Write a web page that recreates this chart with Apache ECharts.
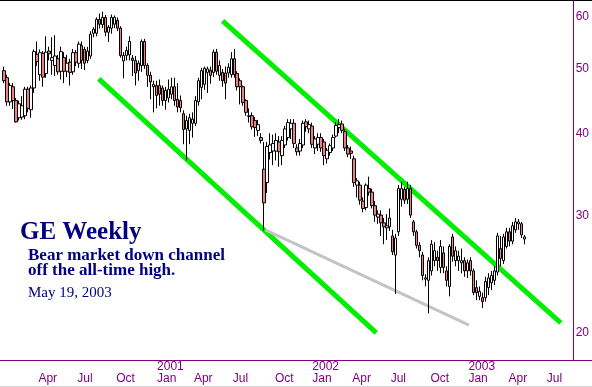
<!DOCTYPE html>
<html>
<head>
<meta charset="utf-8">
<script src="https://cdn.jsdelivr.net/npm/echarts@6/dist/echarts.min.js"></script>
<style>
html, body { margin: 0; padding: 0; background: #fff; }
#chart { width: 592px; height: 387px; }
</style>
</head>
<body>
<div id="chart"></div>
<script>
// GE weekly bars, Jan 2000 .. May 2003: [open, close, low, high]
const firstWeek = '2000-01-03'
const ohlc = [
	[49.7, 48.0, 47.6, 50.4], [48.5, 44.6, 44.0, 49.0], [44.6, 47.2, 44.0, 47.6], [47.0, 44.8, 43.5, 47.6],
	[44.8, 41.6, 41.5, 45.2], [42.2, 44.3, 41.8, 44.8], [42.3, 44.0, 41.9, 45.5], [42.5, 46.6, 42.0, 47.0],
	[46.6, 43.6, 43.0, 47.0], [43.4, 46.8, 42.2, 47.2], [46.8, 53.1, 46.0, 53.5], [52.6, 51.3, 50.5, 55.0],
	[49.0, 52.9, 48.0, 53.5], [52.8, 48.6, 47.0, 53.2], [49.2, 53.0, 48.5, 56.0], [53.2, 52.7, 51.5, 54.0],
	[51.5, 52.0, 49.0, 55.8], [50.6, 52.3, 48.8, 56.2], [51.8, 49.5, 49.0, 52.5], [49.6, 53.1, 48.2, 54.0],
	[52.0, 49.6, 47.6, 53.0], [49.6, 51.0, 48.6, 52.5], [51.2, 49.4, 47.2, 51.8], [49.5, 52.9, 49.0, 53.6],
	[52.9, 51.2, 50.5, 53.4], [51.0, 54.5, 50.2, 55.0], [54.2, 51.5, 50.0, 55.0], [53.5, 51.0, 49.8, 54.0],
	[51.5, 53.2, 51.0, 54.0], [52.3, 56.4, 51.8, 57.0], [56.6, 57.4, 55.8, 57.8], [56.6, 59.4, 56.0, 59.8],
	[59.4, 58.4, 57.5, 60.6], [58.3, 59.8, 57.6, 61.0], [59.8, 56.8, 56.0, 60.3], [56.8, 57.8, 54.9, 58.2],
	[57.6, 59.8, 56.5, 60.4], [58.4, 59.8, 57.6, 60.2], [59.2, 57.6, 57.0, 59.8], [57.6, 52.4, 52.0, 58.0],
	[51.4, 52.4, 48.4, 53.0], [52.4, 53.3, 51.5, 54.0], [52.5, 55.0, 51.5, 56.0], [51.9, 51.5, 48.8, 52.5],
	[51.5, 49.3, 47.2, 52.3], [49.7, 51.0, 48.0, 51.5], [50.6, 55.0, 49.5, 55.4], [55.0, 50.6, 50.0, 55.5],
	[50.6, 48.9, 47.0, 51.0], [48.9, 47.8, 45.0, 49.5], [47.0, 47.4, 43.0, 48.0], [47.2, 45.6, 43.6, 48.0],
	[47.2, 45.8, 44.0, 48.2], [46.8, 44.8, 44.0, 47.2], [44.8, 46.4, 43.4, 47.0], [45.2, 46.6, 44.5, 48.2],
	[45.8, 47.0, 45.0, 48.5], [47.0, 44.8, 44.0, 48.5], [45.0, 43.8, 43.0, 47.6], [44.8, 43.7, 43.0, 45.6],
	[42.8, 40.5, 38.5, 43.3], [40.6, 41.8, 36.4, 42.5], [40.4, 42.2, 38.5, 42.8], [41.4, 42.0, 39.4, 43.0],
	[41.4, 44.8, 41.0, 45.5], [44.6, 48.0, 44.0, 48.5], [46.9, 49.7, 45.0, 50.2], [47.4, 50.1, 46.5, 50.4],
	[49.4, 50.0, 46.0, 50.4], [49.8, 48.9, 47.5, 50.4], [49.4, 53.0, 48.6, 53.5], [53.0, 49.6, 49.0, 53.6],
	[48.9, 50.6, 48.0, 51.5], [49.4, 48.0, 47.0, 50.0], [49.3, 47.6, 45.0, 50.4], [49.3, 50.3, 48.5, 51.0],
	[49.0, 51.8, 48.5, 53.0], [51.8, 49.0, 48.5, 53.6], [49.2, 47.0, 46.4, 49.6], [48.0, 47.0, 44.2, 48.4],
	[47.0, 44.5, 44.0, 47.2], [44.8, 43.0, 42.5, 45.0], [42.4, 42.5, 41.5, 43.6], [42.5, 40.9, 40.5, 43.0],
	[41.8, 40.8, 39.5, 42.3], [40.4, 41.2, 39.6, 41.9], [39.4, 39.0, 38.6, 40.0], [35.3, 31.4, 28.5, 38.8],
	[33.7, 38.2, 32.5, 38.8], [37.4, 38.4, 36.5, 40.0], [37.6, 38.6, 35.8, 39.8], [37.6, 39.0, 36.4, 40.0],
	[38.8, 37.5, 35.6, 39.6], [37.0, 39.0, 35.8, 39.6], [38.4, 40.6, 38.0, 41.0], [39.4, 41.5, 39.0, 42.0],
	[40.6, 41.4, 39.2, 42.0], [41.4, 38.6, 38.0, 42.0], [38.0, 37.5, 37.0, 38.5], [37.6, 38.6, 37.0, 39.2],
	[38.4, 41.4, 38.0, 41.8], [41.6, 40.9, 40.2, 42.0], [40.6, 41.2, 40.0, 41.8], [41.0, 38.5, 38.0, 41.5],
	[38.0, 39.2, 37.2, 39.6], [38.5, 39.4, 37.6, 40.0], [39.4, 38.0, 37.5, 40.0], [38.8, 37.0, 35.8, 39.2],
	[36.6, 37.7, 36.0, 38.0], [37.4, 38.3, 37.0, 38.6], [38.0, 39.4, 37.6, 39.8], [39.6, 41.1, 39.4, 41.6],
	[40.8, 41.2, 40.0, 42.0], [41.3, 40.4, 40.0, 41.8], [40.2, 38.0, 37.6, 40.6], [38.0, 37.2, 36.8, 38.4],
	[37.6, 37.3, 36.6, 38.2], [36.6, 33.7, 33.2, 37.0], [33.4, 33.9, 32.0, 34.2], [33.4, 31.7, 31.2, 33.8],
	[31.6, 30.8, 30.4, 32.0], [30.9, 33.4, 30.6, 33.6], [33.0, 32.6, 32.2, 34.4], [32.6, 31.1, 30.8, 33.0],
	[31.1, 30.1, 29.4, 31.6], [29.9, 30.2, 29.2, 30.6], [30.1, 29.3, 28.0, 30.6], [29.3, 28.9, 27.2, 29.8],
	[28.8, 29.0, 27.6, 30.2], [28.9, 29.8, 28.5, 30.8], [28.0, 26.5, 26.2, 28.6], [26.2, 27.8, 22.9, 28.2],
	[28.4, 33.0, 28.0, 33.4], [31.8, 33.0, 31.0, 33.8], [32.9, 31.7, 31.3, 33.2], [31.8, 33.0, 31.3, 33.8],
	[33.0, 30.1, 29.8, 33.4], [29.4, 28.4, 28.0, 29.6], [28.4, 27.1, 26.8, 28.6], [27.1, 26.6, 26.0, 27.4],
	[26.2, 24.4, 24.0, 26.5], [24.1, 24.2, 23.5, 24.5], [24.0, 25.7, 21.4, 26.0], [24.8, 27.2, 24.4, 27.6],
	[25.7, 26.6, 25.2, 27.4], [26.0, 25.7, 24.8, 26.6], [25.1, 27.0, 24.6, 27.6], [26.4, 25.1, 24.6, 27.0],
	[24.8, 24.0, 23.5, 25.2], [23.5, 27.0, 22.7, 27.2], [27.9, 26.1, 25.6, 28.2], [25.7, 26.6, 25.2, 27.0],
	[25.7, 26.1, 24.8, 26.6], [25.5, 25.7, 24.6, 26.8], [25.7, 24.8, 24.3, 26.0], [24.8, 25.5, 24.2, 25.8],
	[25.7, 24.8, 24.4, 26.0], [24.8, 23.0, 22.8, 25.0], [23.4, 23.0, 22.4, 24.0], [22.7, 23.1, 22.4, 23.5],
	[22.6, 22.3, 21.8, 23.0], [22.6, 23.9, 22.3, 24.3], [23.4, 24.2, 22.8, 24.6], [23.8, 24.4, 23.2, 24.8],
	[24.0, 24.8, 23.6, 25.2], [24.7, 28.0, 24.4, 28.3], [26.8, 25.9, 25.2, 28.0], [25.7, 27.9, 25.4, 28.2],
	[27.0, 28.4, 26.8, 28.8], [28.4, 27.5, 27.0, 28.8], [27.5, 29.0, 27.2, 29.4], [28.6, 29.4, 28.3, 29.8],
	[29.2, 29.4, 28.6, 29.7], [29.2, 28.1, 27.8, 29.4], [27.7, 27.9, 27.2, 28.1]
]
const weekCount = 191

const priceTicks = [20, 30, 40, 50, 60]
const quarterMonths = ['Apr', 'Jul', 'Oct', 'Jan', 'Apr', 'Jul', 'Oct', 'Jan', 'Apr', 'Jul', 'Oct', 'Jan', 'Apr', 'Jul']
const quarterYears = ['', '', '', '2001', '', '', '', '2002', '', '', '', '2003', '', '']
// label start, in weeks from the first bar
const quarterWeeks = [11.5, 24.5, 37.5, 51.2, 63.5, 76.5, 90.6, 103.1, 116.5, 129.3, 142.6, 155.3, 168.7, 181.5]

// trend lines: [week, price]
const lowerChannel = [[31.7, 48.3], [124.5, 20.0]]
const upperChannel = [[73.1, 59.1], [186.2, 20.7]]
const supportLine = [[87.4, 28.6], [155.5, 20.55]]

const weeks = []
const t0 = new Date(firstWeek + 'T00:00:00Z').getTime()
for (let i = 0; i < weekCount; i++) {
	weeks.push(new Date(t0 + i * 7 * 864e5).toISOString().slice(0, 10))
}

const purple = '#800080'
const navy = '#000080'
const green = '#00ee00'

const chart = echarts.init(document.getElementById('chart'), null, { renderer: 'canvas' })

const option = {
	animation: false,
	backgroundColor: '#fff',
	grid: { left: 2.5, right: 17, top: 1, bottom: 27 },
	xAxis: [
		{
			type: 'category',
			data: weeks,
			boundaryGap: true,
			position: 'bottom',
			axisLine: { onZero: false, lineStyle: { color: purple, width: 1 } },
			axisTick: { show: false },
			axisLabel: { show: false },
			splitLine: { show: false }
		},
		{
			type: 'value',
			position: 'bottom',
			min: -0.5,
			max: weekCount - 0.5,
			axisLine: { show: false, onZero: false },
			axisTick: { show: false },
			splitLine: { show: false },
			axisLabel: {
				customValues: quarterWeeks,
				align: 'left',
				margin: 1,
				color: purple,
				fontSize: 12,
				lineHeight: 12,
				fontFamily: 'Liberation Sans, Arial, sans-serif',
				formatter: v => {
					const k = quarterWeeks.indexOf(v)
					return (quarterYears[k] || '') + '\n' + quarterMonths[k]
				}
			}
		}
	],
	yAxis: {
		type: 'log',
		logBase: 10,
		position: 'right',
		min: 18.2,
		max: 63.3,
		axisLine: { show: true, onZero: false, lineStyle: { color: purple, width: 1 } },
		axisTick: { show: false },
		splitLine: { show: false },
		minorTick: { show: false },
		axisLabel: {
			customValues: priceTicks,
			margin: 2,
			color: purple,
			fontSize: 12,
			fontFamily: 'Liberation Sans, Arial, sans-serif'
		}
	},
	series: [
		{
			type: 'line',
			xAxisIndex: 1,
			data: lowerChannel,
			symbol: 'none',
			z: 1,
			lineStyle: { color: green, width: 5 }
		},
		{
			type: 'line',
			xAxisIndex: 1,
			data: upperChannel,
			symbol: 'none',
			z: 1,
			lineStyle: { color: green, width: 5 }
		},
		{
			type: 'line',
			xAxisIndex: 1,
			data: supportLine,
			symbol: 'none',
			z: 1,
			lineStyle: { color: '#c4c4c4', width: 3 }
		},
		{
			type: 'candlestick',
			xAxisIndex: 0,
			data: ohlc,
			barWidth: 3,
			z: 3,
			itemStyle: {
				color: '#ffffff',
				color0: '#f08080',
				borderColor: '#000000',
				borderColor0: '#000000',
				borderWidth: 1
			}
		}
	],
	graphic: [
		{ type: 'line', shape: { x1: 0, y1: 0.5, x2: 592, y2: 0.5 }, style: { stroke: '#000', lineWidth: 1 } },
		{ type: 'line', shape: { x1: 0, y1: 360.5, x2: 592, y2: 360.5 }, style: { stroke: purple, lineWidth: 1 } },
		{ type: 'line', shape: { x1: 0, y1: 386.5, x2: 592, y2: 386.5 }, style: { stroke: '#d4d4d4', lineWidth: 1 } },
		{
			type: 'text', left: 20, top: 220,
			style: { text: 'GE Weekly', font: 'bold 25px "Liberation Serif", "Times New Roman", serif', fill: navy }
		},
		{
			type: 'text', left: 28, top: 247,
			style: {
				text: 'Bear market down channel\noff the all-time high.',
				font: 'bold 17px "Liberation Serif", "Times New Roman", serif',
				lineHeight: 15,
				fill: navy
			}
		},
		{
			type: 'text', left: 28, top: 286,
			style: { text: 'May 19, 2003', font: '15px "Liberation Serif", "Times New Roman", serif', fill: navy }
		}
	]
}

chart.setOption(option)
</script>
</body>
</html>
